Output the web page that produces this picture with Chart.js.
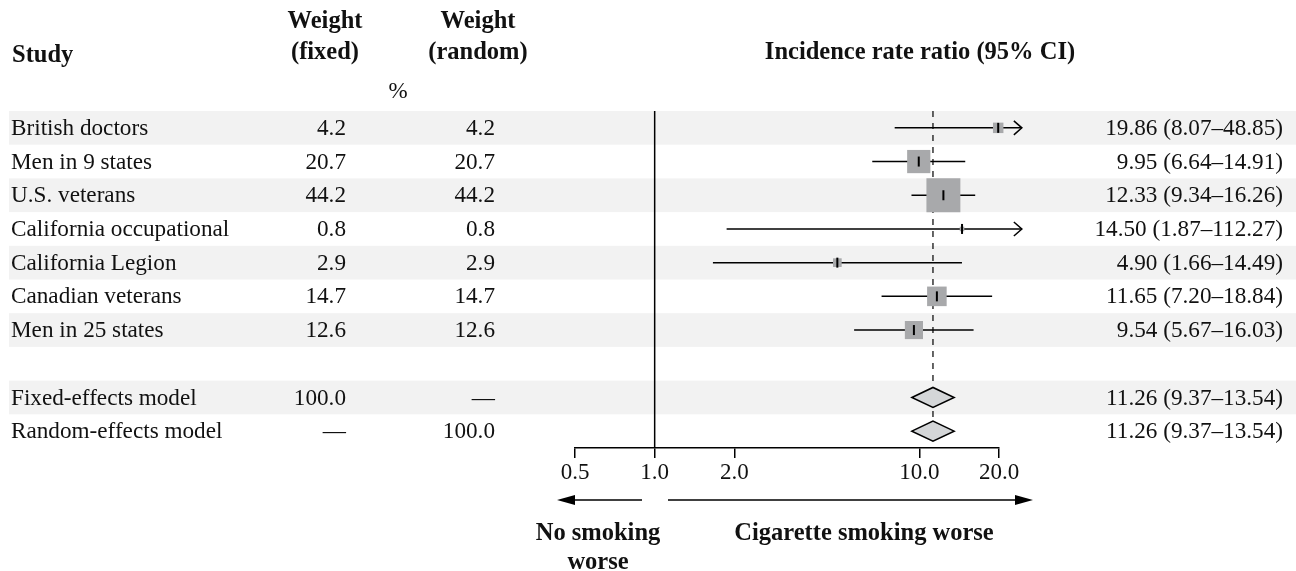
<!DOCTYPE html>
<html>
<head>
<meta charset="utf-8">
<script src="https://cdn.jsdelivr.net/npm/chart.js@4.4.0/dist/chart.umd.min.js"></script>
<style>
  html, body { margin: 0; padding: 0; background: #fff; }
  #wrap { width: 1296px; height: 571px; }
</style>
</head>
<body>
<div id="wrap"><canvas id="forest" width="1296" height="571"></canvas></div>
<script>
// study rows
const studies = ['British doctors', 'Men in 9 states', 'U.S. veterans', 'California occupational',
                 'California Legion', 'Canadian veterans', 'Men in 25 states'];
const weightFixed = [4.2, 20.7, 44.2, 0.8, 2.9, 14.7, 12.6];
const weightRandom = [4.2, 20.7, 44.2, 0.8, 2.9, 14.7, 12.6];
const irr = [19.86, 9.95, 12.33, 14.50, 4.90, 11.65, 9.54];
const ciLow = [8.07, 6.64, 9.34, 1.87, 1.66, 7.20, 5.67];
const ciHigh = [48.85, 14.91, 16.26, 112.27, 14.49, 18.84, 16.03];

// pooled rows
const models = ['Fixed-effects model', 'Random-effects model'];
const modelWeightFixed = ['100.0', '\u2014'];
const modelWeightRandom = ['\u2014', '100.0'];
const modelIrr = [11.26, 11.26];
const modelLow = [9.37, 9.37];
const modelHigh = [13.54, 13.54];

const tickValues = [0.5, 1, 2, 10, 20];
const arrowCap = 24.4;   // CIs beyond this get an arrow

const FONT = '"Liberation Serif", "Times New Roman", serif';
const fmt = v => v.toFixed(2);
const ciText = (e, l, h) => fmt(e) + ' (' + fmt(l) + '\u2013' + fmt(h) + ')';

// row indices: studies 0..6, blank 7, models 8..9
const modelRow = i => studies.length + 1 + i;
const nRows = studies.length + 1 + models.length;

const forestPlugin = {
  id: 'forest',
  beforeDraw(chart) {
    const ctx = chart.ctx, y = chart.scales.y;
    ctx.save();
    ctx.fillStyle = '#f2f2f2';
    for (let r = 0; r < nRows; r += 2) {
      const top = y.getPixelForValue(r - 0.5), bot = y.getPixelForValue(r + 0.5);
      ctx.fillRect(9, top, chart.width - 9, bot - top);
    }
    ctx.restore();
  },
  beforeDatasetsDraw(chart) {
    const ctx = chart.ctx, x = chart.scales.x, y = chart.scales.y, a = chart.chartArea;
    ctx.save();
    // line of no effect
    ctx.strokeStyle = '#000';
    ctx.lineWidth = 1.5;
    ctx.beginPath();
    ctx.moveTo(x.getPixelForValue(1), a.top);
    ctx.lineTo(x.getPixelForValue(1), a.bottom);
    ctx.stroke();
    // pooled estimate
    ctx.setLineDash([6, 6]);
    ctx.lineWidth = 1.2;
    ctx.beginPath();
    ctx.moveTo(x.getPixelForValue(modelIrr[0]), a.top);
    ctx.lineTo(x.getPixelForValue(modelIrr[0]), a.bottom);
    ctx.stroke();
    ctx.setLineDash([]);
    // confidence intervals
    ctx.lineWidth = 1.5;
    studies.forEach((s, i) => {
      const py = y.getPixelForValue(i);
      const x0 = x.getPixelForValue(ciLow[i]);
      const capped = ciHigh[i] > arrowCap;
      const x1 = x.getPixelForValue(capped ? arrowCap : ciHigh[i]);
      ctx.beginPath();
      ctx.moveTo(x0, py);
      ctx.lineTo(x1, py);
      ctx.stroke();
      if (capped) {
        ctx.beginPath();
        ctx.moveTo(x1 - 8, py - 7);
        ctx.lineTo(x1, py);
        ctx.lineTo(x1 - 8, py + 7);
        ctx.stroke();
      }
    });
    ctx.restore();
  },
  afterDatasetsDraw(chart) {
    const ctx = chart.ctx, x = chart.scales.x, y = chart.scales.y;
    ctx.save();
    // estimate ticks inside squares
    ctx.strokeStyle = '#000';
    ctx.lineWidth = 2;
    irr.forEach((v, i) => {
      const px = x.getPixelForValue(v), py = y.getPixelForValue(i);
      ctx.beginPath();
      ctx.moveTo(px, py - 5);
      ctx.lineTo(px, py + 5);
      ctx.stroke();
    });
    // diamonds
    ctx.lineWidth = 1.5;
    ctx.fillStyle = '#d4d6d8';
    models.forEach((m, i) => {
      const py = y.getPixelForValue(modelRow(i));
      ctx.beginPath();
      ctx.moveTo(x.getPixelForValue(modelLow[i]), py);
      ctx.lineTo(x.getPixelForValue(modelIrr[i]), py - 10);
      ctx.lineTo(x.getPixelForValue(modelHigh[i]), py);
      ctx.lineTo(x.getPixelForValue(modelIrr[i]), py + 10);
      ctx.closePath();
      ctx.fill();
      ctx.stroke();
    });

    // table text
    ctx.fillStyle = '#111';
    ctx.textBaseline = 'middle';
    ctx.font = '23.2px ' + FONT;
    const row = (r, name, wf, wr, ci) => {
      const py = y.getPixelForValue(r) + 1;
      ctx.textAlign = 'left';
      ctx.fillText(name, 11, py);
      ctx.textAlign = 'right';
      ctx.fillText(wf, 346, py);
      ctx.fillText(wr, 495, py);
      ctx.fillText(ci, 1283, py);
    };
    studies.forEach((s, i) => row(i, s, weightFixed[i].toFixed(1), weightRandom[i].toFixed(1),
                                  ciText(irr[i], ciLow[i], ciHigh[i])));
    models.forEach((m, i) => row(modelRow(i), m, modelWeightFixed[i], modelWeightRandom[i],
                                 ciText(modelIrr[i], modelLow[i], modelHigh[i])));

    // headers
    ctx.font = 'bold 24.5px ' + FONT;
    ctx.textAlign = 'left';
    ctx.fillText('Study', 12, 56);
    ctx.textAlign = 'center';
    ctx.fillText('Weight', 325, 22);
    ctx.fillText('(fixed)', 325, 53);
    ctx.fillText('Weight', 478, 22);
    ctx.fillText('(random)', 478, 53);
    ctx.fillText('Incidence rate ratio (95% CI)', 920, 53);
    ctx.font = '23px ' + FONT;
    ctx.fillText('%', 398, 92);

    // direction arrows
    const ay = 500;
    ctx.strokeStyle = '#000';
    ctx.fillStyle = '#000';
    ctx.lineWidth = 1.5;
    const arrow = (from, to) => {
      const dir = Math.sign(to - from);
      ctx.beginPath();
      ctx.moveTo(from, ay);
      ctx.lineTo(to - dir * 16, ay);
      ctx.stroke();
      ctx.beginPath();
      ctx.moveTo(to, ay);
      ctx.lineTo(to - dir * 18, ay - 5);
      ctx.lineTo(to - dir * 18, ay + 5);
      ctx.closePath();
      ctx.fill();
    };
    arrow(642, 557);
    arrow(668, 1033);
    ctx.fillStyle = '#111';
    ctx.font = 'bold 24.5px ' + FONT;
    ctx.textAlign = 'center';
    ctx.fillText('No smoking', 598, 534);
    ctx.fillText('worse', 598, 563);
    ctx.fillText('Cigarette smoking worse', 864, 534);
    ctx.restore();
  }
};

new Chart(document.getElementById('forest'), {
  type: 'scatter',
  data: {
    datasets: [{
      data: irr.map((v, i) => ({ x: v, y: i })),
      pointStyle: 'rect',
      pointRadius: weightFixed.map(w => 24 * Math.sqrt(w / 44.2)),
      pointBackgroundColor: '#a8a9ab',
      pointBorderWidth: 0,
      clip: false
    }]
  },
  options: {
    responsive: false,
    devicePixelRatio: 1,
    animation: false,
    events: [],
    layout: { padding: { left: 575, right: 297, top: 111, bottom: 83 } },
    plugins: { legend: { display: false }, tooltip: { enabled: false } },
    scales: {
      x: {
        type: 'logarithmic',
        min: 0.5,
        max: 20,
        afterBuildTicks: s => { s.ticks = tickValues.map(v => ({ value: v })); },
        afterFit: s => { s.height = 40; },
        ticks: {
          autoSkip: false,
          maxRotation: 0,
          padding: 1,
          color: '#111',
          font: { family: FONT, size: 23 },
          callback: v => Number(v).toFixed(1)
        },
        grid: { drawOnChartArea: false, drawTicks: true, tickLength: 10, color: '#000', lineWidth: 1.5 },
        border: { display: true, color: '#000', width: 1.5 }
      },
      y: {
        type: 'linear',
        reverse: true,
        min: -0.5,
        max: nRows - 0.5,
        display: false
      }
    }
  },
  plugins: [forestPlugin]
});
</script>
</body>
</html>
